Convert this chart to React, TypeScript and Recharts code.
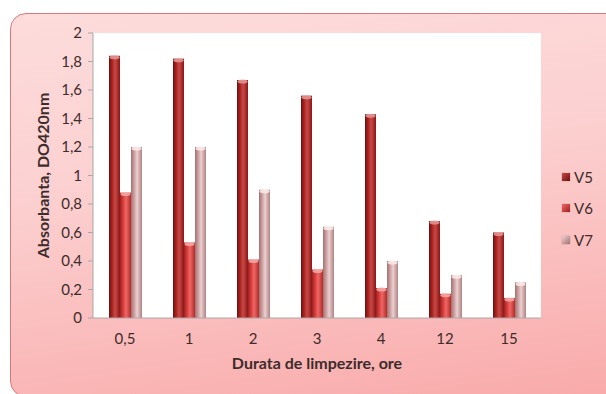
import React from "react";
import { Bar, BarChart, CartesianGrid, XAxis, YAxis } from "recharts";

const durations = ["0,5", "1", "2", "3", "4", "12", "15"];
const v5 = [1.84, 1.82, 1.67, 1.56, 1.43, 0.68, 0.6];
const v6 = [0.88, 0.53, 0.41, 0.34, 0.21, 0.17, 0.14];
const v7 = [1.2, 1.2, 0.9, 0.64, 0.4, 0.3, 0.25];
const yTicks = [0, 0.2, 0.4, 0.6, 0.8, 1, 1.2, 1.4, 1.6, 1.8, 2];

const rows = durations.map((d, i) => ({ d, V5: v5[i], V6: v6[i], V7: v7[i] }));

const series = [
  { key: "V5", swatch: "#a5201f", stops: ["#6e0f0f", "#b32a28", "#c84a45", "#8a1717"], cap: "#e59a96" },
  { key: "V6", swatch: "#d33a3a", stops: ["#a01f1f", "#e04545", "#ec6a66", "#b52828"], cap: "#f4aaa7" },
  { key: "V7", swatch: "#c9a0a0", stops: ["#a27070", "#d4aaaa", "#ecd0d0", "#b08282"], cap: "#fbeaea" },
];

const font = "Lato, 'Open Sans', sans-serif";
const ink = "#3d2c2c";

// cylinder-like bar: horizontal shading plus a light elliptical cap
const makeShape = (key: string, cap: string) => (props: any) => {
  const { x, y, width, height } = props;
  if (!height || height <= 0) return <g />;
  return (
    <g>
      <rect x={x} y={y} width={width} height={height} fill={`url(#grad-${key})`} />
      <ellipse cx={x + width / 2} cy={y + 1.5} rx={width / 2 - 0.5} ry={2} fill={cap} opacity={0.85} />
    </g>
  );
};

const fmt = (v: number) => String(Math.round(v * 10) / 10).replace(".", ",");

function LegendBox() {
  return (
    <div style={{ position: "absolute", left: 562, top: 161, fontFamily: font, fontSize: 15, color: ink }}>
      {series.map((s) => (
        <div key={s.key} style={{ display: "flex", alignItems: "center", height: 31.5 }}>
          <span
            style={{
              width: 8,
              height: 8,
              marginRight: 4,
              background: `linear-gradient(135deg, ${s.stops[2]}, ${s.stops[0]})`,
              boxShadow: "0 0 1px rgba(0,0,0,0.4)",
            }}
          />
          {s.key}
        </div>
      ))}
    </div>
  );
}

export default function App() {
  return (
    <div style={{ position: "absolute", left: 0, top: 0, width: 606, height: 394, background: "#fff", overflow: "hidden" }}>
      <div
        style={{
          position: "absolute",
          left: 10,
          top: 13,
          width: 612,
          height: 384,
          borderRadius: 16,
          border: "1px solid #d9787a",
          background: "linear-gradient(172deg, #fddcdc 0%, #fcd0d0 40%, #f9aaaa 100%)",
          boxSizing: "border-box",
        }}
      />
      <div style={{ position: "absolute", left: 0, top: 0 }}>
        <BarChart
          width={606}
          height={394}
          data={rows}
          margin={{ top: 33, right: 65, bottom: 0, left: 0 }}
          barGap={0}
          barCategoryGap={15}
        >
          <defs>
            {series.map((s) => (
              <linearGradient key={s.key} id={`grad-${s.key}`} x1="0" y1="0" x2="1" y2="0">
                <stop offset="0%" stopColor={s.stops[0]} />
                <stop offset="35%" stopColor={s.stops[1]} />
                <stop offset="55%" stopColor={s.stops[2]} />
                <stop offset="100%" stopColor={s.stops[3]} />
              </linearGradient>
            ))}
          </defs>
          <CartesianGrid horizontal={false} vertical={false} fill="#ffffff" />
          <XAxis
            dataKey="d"
            height={76}
            tickLine={false}
            tickSize={0}
            tickMargin={15}
            stroke="#a8a8a8"
            tick={{ fill: ink, fontSize: 15, fontFamily: font }}
            label={{
              value: "Durata de limpezire, ore",
              position: "insideTop",
              offset: 40,
              style: { fill: ink, fontSize: 16, fontWeight: 700, fontFamily: font },
            }}
          />
          <YAxis
            width={93}
            domain={[0, 2]}
            ticks={yTicks}
            interval={0}
            tickFormatter={fmt}
            tickSize={5}
            tickMargin={6}
            stroke="#a8a8a8"
            tick={{ fill: ink, fontSize: 15, fontFamily: font }}
            label={{
              value: "Absorbanta, DO420nm",
              angle: -90,
              position: "insideLeft",
              offset: 43,
              style: { textAnchor: "middle", fill: ink, fontSize: 16, fontWeight: 700, fontFamily: font },
            }}
          />
          {series.map((s) => (
            <Bar
              key={s.key}
              dataKey={s.key}
              barSize={11}
              fill={s.swatch}
              shape={makeShape(s.key, s.cap)}
              isAnimationActive={false}
            />
          ))}
        </BarChart>
      </div>
      <LegendBox />
    </div>
  );
}
